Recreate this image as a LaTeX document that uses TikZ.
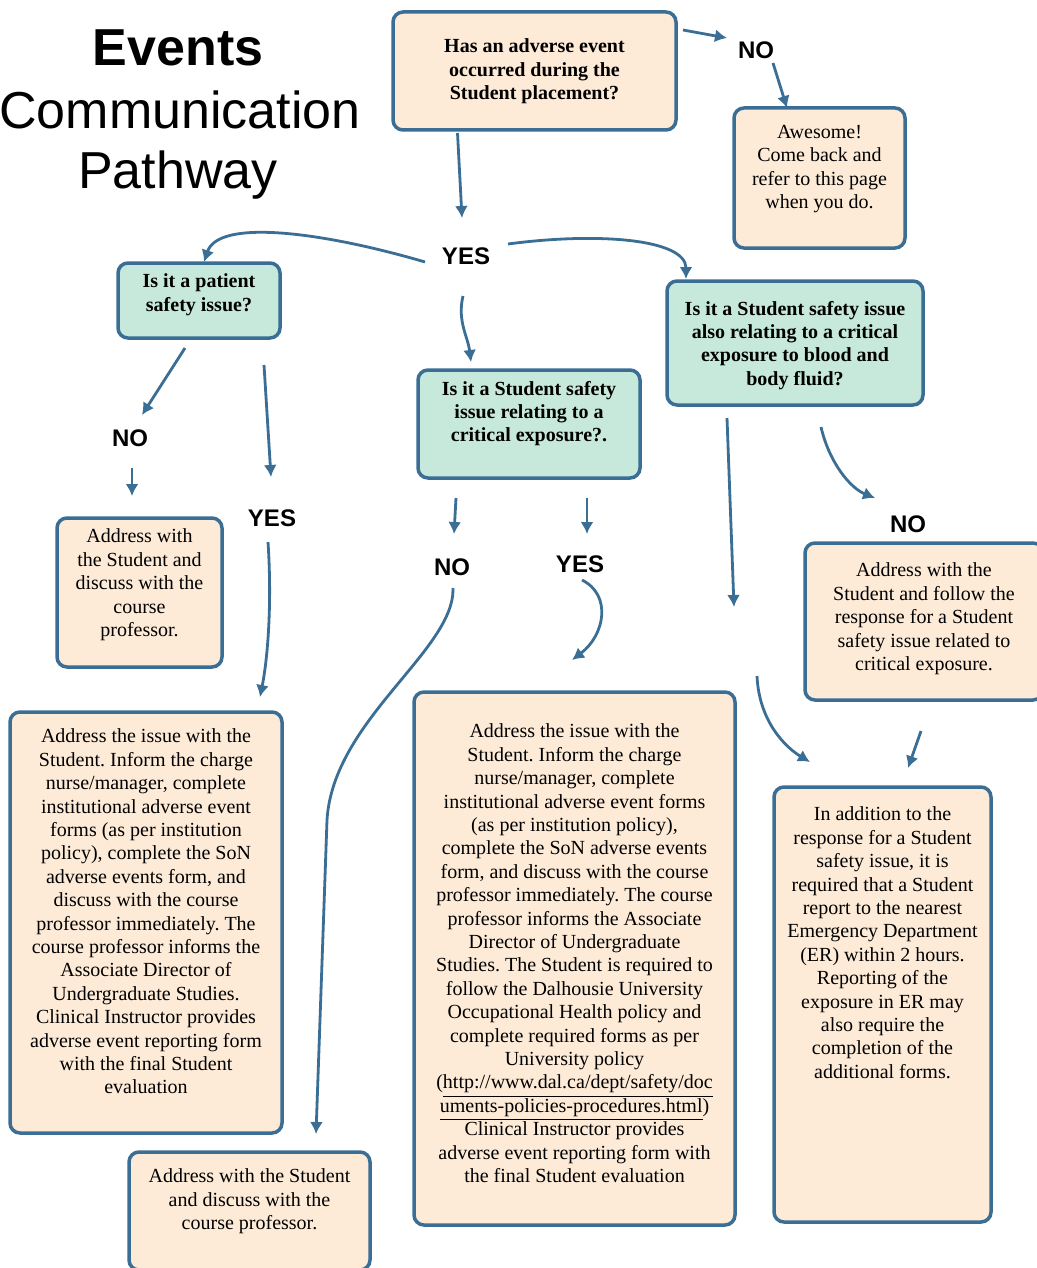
\documentclass[tikz,border=0pt]{standalone}
\usepackage{fontspec}
\setmainfont{Liberation Serif}
\setsansfont{Liberation Sans}
\usetikzlibrary{arrows.meta,calc}
\frenchspacing

\definecolor{edge}{RGB}{58,110,148}
\definecolor{peach}{RGB}{253,235,215}
\definecolor{mint}{RGB}{198,233,219}

% fixed-size text block: width, height, top gap, text
\newcommand{\bxtxt}[4]{\parbox[c][#2][t]{#1}{\centering\fontsize{10}{11.7}\selectfont\vspace*{#3}#4\par}}

\tikzset{
  pbox/.style={draw=edge, line width=1.75pt, rounded corners=5pt, fill=peach,
               inner sep=0pt, outer sep=0pt},
  qbox/.style={pbox, fill=mint, font=\bfseries},
  lbl/.style={font=\sffamily\bfseries\fontsize{12}{14}\selectfont, inner sep=0pt},
  ttl/.style={font=\sffamily\fontsize{26}{30}\selectfont, inner sep=0pt, anchor=base},
  conn/.style={draw=edge, line width=1.4pt, -{Latex[length=6pt,width=6.5pt]}}
}

\begin{document}
\begin{tikzpicture}[x=0.5pt,y=-0.5pt]
\fill[white] (0,0) rectangle (1037,1268);
\useasboundingbox (0,0) rectangle (1037,1268);

% title
\node[ttl, font=\sffamily\bfseries\fontsize{26}{30}\selectfont] (t1) at (178,66) {Events};
\node[ttl] (t2) at (180,128) {Communication};
\node[ttl] (t3) at (178,188) {Pathway};

% boxes
\node[pbox, font=\bfseries] (q1) at (534.5,71)
  {\bxtxt{141.5pt}{59pt}{13.5pt}{Has an adverse event\\occurred during the\\Student placement?}};
\node[pbox] (awesome) at (819.5,178)
  {\bxtxt{85.5pt}{70pt}{8.5pt}{Awesome!\\Come back and\\refer to this page\\when you do.}};
\node[qbox] (patient) at (199,300.5)
  {\bxtxt{81pt}{37.5pt}{5.5pt}{Is it a patient\\safety issue?}};
\node[qbox] (stud) at (529,424)
  {\bxtxt{111pt}{54pt}{5.5pt}{Is it a Student safety\\issue relating to a\\critical exposure?.}};
\node[qbox] (blood) at (795,343)
  {\bxtxt{128pt}{62pt}{10pt}{Is it a Student safety issue\\also relating to a critical\\exposure to blood and\\body fluid?}};
\node[pbox] (leftsmall) at (139.5,592.5)
  {\bxtxt{82.5pt}{74.5pt}{5.5pt}{Address with\\the Student and\\discuss with the\\course\\professor.}};
\node[pbox] (bigleft) at (146,922.5)
  {\bxtxt{136pt}{210.5pt}{8.5pt}{Address the issue with the\\Student. Inform the charge\\nurse/manager, complete\\institutional adverse event\\forms (as per institution\\policy), complete the SoN\\adverse events form, and\\discuss with the course\\professor immediately. The\\course professor informs the\\Associate Director of\\Undergraduate Studies.\\Clinical Instructor provides\\adverse event reporting form\\with the final Student\\evaluation}};
\node[pbox] (bigcenter) at (574.5,958.5)
  {\bxtxt{160.5pt}{266.5pt}{16pt}{Address the issue with the\\Student. Inform the charge\\nurse/manager, complete\\institutional adverse event forms\\(as per institution policy),\\complete the SoN adverse events\\form, and discuss with the course\\professor immediately. The course\\professor informs the Associate\\Director of Undergraduate\\Studies. The Student is required to\\follow the Dalhousie University\\Occupational Health policy and\\complete required forms as per\\University policy\\(\underline{http://www.dal.ca/dept/safety/doc}\\\underline{uments-policies-procedures.html})\\Clinical Instructor provides\\adverse event reporting form with\\the final Student evaluation}};
\node[pbox] (follow) at (924,621.5)
  {\bxtxt{119pt}{78.5pt}{10pt}{Address with the\\Student and follow the\\response for a Student\\safety issue related to\\critical exposure.}};
\node[pbox] (er) at (882.5,1004.5)
  {\bxtxt{108.5pt}{217.5pt}{10pt}{In addition to the\\response for a Student\\safety issue, it is\\required that a Student\\report to the nearest\\Emergency Department\\(ER) within 2 hours.\\Reporting of the\\exposure in ER may\\also require the\\completion of the\\additional forms.}};
\node[pbox] (botsmall) at (249.5,1211)
  {\bxtxt{120.5pt}{59pt}{8.5pt}{Address with the Student\\and discuss with the\\course professor.}};

% answer labels
\node[lbl] (notop) at (756,50) {NO};
\node[lbl] (yestop) at (466,256) {YES};
\node[lbl] (nol) at (130,438) {NO};
\node[lbl] (yesl) at (272,518) {YES};
\node[lbl] (noc) at (452,567) {NO};
\node[lbl] (yesc) at (580,564) {YES};
\node[lbl] (nor) at (908,524) {NO};

% free ends of the split connector under the blood/body fluid question
\coordinate (bloodyes) at (734,607);
\coordinate (bloodyes2) at (757,676);

% connectors
\draw[conn] ($(q1.north east)+(7,18)$) -- ($(notop)+(-29,-12)$);
\draw[conn] ($(notop)+(17,13)$) -- ($(awesome.north)+(-32.5,0)$);
\draw[conn] ($(q1.south)+(-77,3)$) -- ($(yestop)+(-4,-38)$);

\draw[conn] ($(yestop)+(-41,6)$) .. controls +(-95,-28) and +(15,-45) .. ($(patient.north)+(5,-1)$);
\draw[conn] ($(yestop)+(42,-12)$) .. controls +(90,-12) and +(0,-40) .. ($(blood.north west)+(19,-2)$);
\draw[conn] ($(yestop)+(-3,40)$) .. controls +(-6,25) and +(-3,-25) .. ($(stud.north)+(-58,-8)$);

\draw[conn] ($(patient.south)+(-14,10)$) -- ($(nol)+(12,-23)$);
\draw[conn] ($(patient.south)+(65,27)$) -- ($(yesl)+(-1,-41)$);
\draw[conn] ($(nol)+(2,30)$) -- ($(leftsmall.north)+(-7.5,-22)$);
\draw[conn] ($(yesl)+(-4,24)$) .. controls +(4,60) and +(8,-40) .. ($(bigleft.north)+(114,-15)$);

\draw[conn] ($(stud.south)+(-73,20)$) -- ($(noc)+(2,-33)$);
\draw[conn] ($(stud.south)+(58,20)$) -- ($(yesc)+(7,-30)$);
\draw[conn] ($(noc)+(1,21)$) .. controls +(2,62) and +(6,-100) .. (327,820)
  -- ($(botsmall.north)+(66.5,-18)$);
\draw[conn] ($(yesc)+(2,16)$) .. controls +(30,15) and +(33,-25) .. ($(bigcenter.north)+(-2.5,-32)$);

\draw[conn] ($(blood.south)+(-68,13)$) -- (bloodyes);
\draw[conn] (bloodyes2) .. controls +(2,45) and +(-25,-15) .. ($(er.north)+(-72.5,-25)$);
\draw[conn] ($(blood.south)+(26,22)$) .. controls +(8,35) and +(-25,-10) .. ($(nor)+(-33,-26)$);
\draw[conn] ($(follow.south)+(-3,31)$) -- ($(er.north)+(25.5,-19)$);
\end{tikzpicture}
\end{document}
